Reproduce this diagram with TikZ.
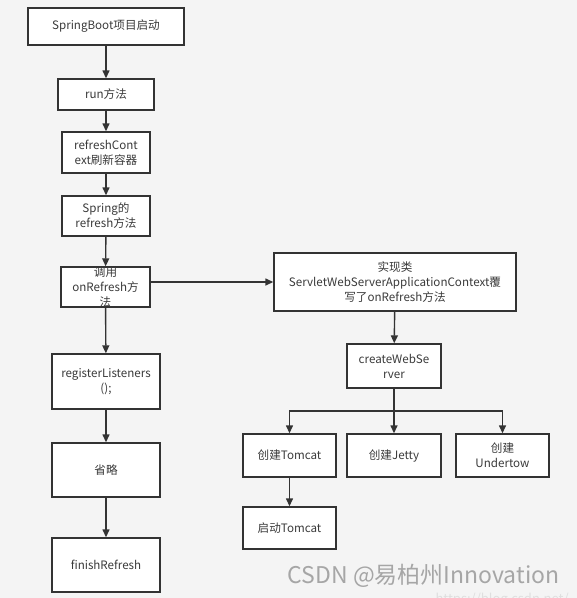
\documentclass[tikz,border=0pt]{standalone}
\usepackage{fontspec}
\newfontfamily\cjk{Noto Sans CJK SC}
\usetikzlibrary{arrows.meta}
\definecolor{bg}{HTML}{F4F4F4}
\definecolor{ink}{HTML}{333333}
\definecolor{txt}{HTML}{3A3A3A}
\tikzset{
  box/.style={draw=ink,line width=1.4pt,fill=white,inner sep=0pt,
    align=center,text=txt,font=\cjk\fontsize{11.6}{15}\selectfont},
  flow/.style={->,draw=ink,line width=1.4pt}
}
\begin{document}
\begin{tikzpicture}[x=1pt,y=-1pt,>={Triangle[length=8pt,width=7pt]}]
        \fill[bg] (0,0) rectangle (577,598);
        \useasboundingbox (0,0) rectangle (577,598);
        % Main chain
        \node[box,minimum width=156pt,minimum height=37pt] (boot) at (106,26.5) {SpringBoot项目启动};
        \node[box,minimum width=96pt,minimum height=31pt] (run) at (106,94.5) {run方法};
        \node[box,minimum width=88pt,minimum height=41pt] (refresh) at (106,152.5) {refreshCont\\ext刷新容器};
        \node[box,minimum width=88pt,minimum height=40pt] (spring) at (106,216) {Spring的\\refresh方法};
        \node[box,minimum width=89pt,minimum height=40pt] (call) at (105.5,287) {};
        \node[box,draw=none,fill=none] (calltext) at (call) {调用\\onRefresh方\\法};
        \node[box,minimum width=108pt,minimum height=55pt] (register) at (106,381.5) {registerListeners\\();};
        \node[box,minimum width=108pt,minimum height=54pt] (omit) at (106,470) {省略};
        \node[box,minimum width=108pt,minimum height=54pt] (finish) at (106,565) {finishRefresh};
        % Web server branch
        \node[box,minimum width=242pt,minimum height=58pt] (impl) at (395,282) {实现类\\ServletWebServerApplicationContext覆\\写了onRefresh方法};
        \node[box,minimum width=94pt,minimum height=44pt] (create) at (394,366) {createWebSe\\rver};
        \node[box,minimum width=93pt,minimum height=43pt] (tomcat) at (289.5,455.5) {创建Tomcat};
        \node[box,minimum width=94pt,minimum height=43pt] (jetty) at (394,455.5) {创建Jetty};
        \node[box,minimum width=93pt,minimum height=43pt] (undertow) at (502.5,455.5) {创建\\Undertow};
        \node[box,minimum width=93pt,minimum height=42pt] (start) at (289.5,528) {启动Tomcat};
        \coordinate (split) at (394,411);
        % Arrows
        \draw[flow] (boot) -- (run);
        \draw[flow] (run) -- (refresh);
        \draw[flow] (refresh) -- (spring);
        \draw[flow] (spring) -- (call);
        \draw[flow] (call) -- (register);
        \draw[flow] (register) -- (omit);
        \draw[flow] (omit) -- (finish);
        \draw[flow] (call.east |- impl.west) -- (impl.west);
        \draw[flow] (impl) -- (create);
        \draw[flow] (create) -- (jetty);
        \draw[flow] (split) -| (tomcat);
        \draw[flow] (split) -| (undertow);
        \draw[flow] (tomcat) -- (start);
        % Watermark
        \node[text=gray!70,font=\cjk\fontsize{23}{26}\selectfont,anchor=base east] (mark) at (563,583) {CSDN @易柏州Innovation};
        \node[text=gray!25,font=\cjk\fontsize{13}{15}\selectfont,anchor=base west] (url) at (432,603) {https://blog.csdn.net/};
      \end{tikzpicture}
\end{document}
